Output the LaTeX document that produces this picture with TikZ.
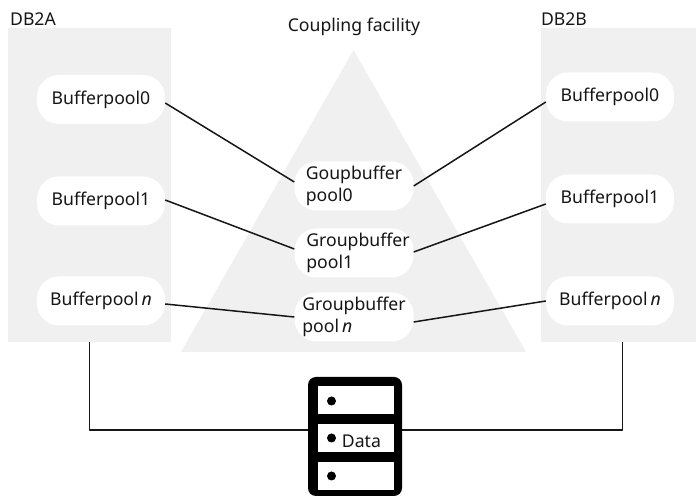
\documentclass[tikz,border=0pt]{standalone}
\usepackage{fontspec}
\setmainfont{Noto Sans}
\usepackage{tikz}
\usetikzlibrary{shapes,arrows,positioning,calc}
\definecolor{panelcol}{HTML}{F0F0F0}
\definecolor{inkcol}{HTML}{161616}
\tikzset{
  panel/.style={fill=panelcol,inner sep=0pt,minimum width=163bp,minimum height=314bp},
  pool/.style={fill=white,rounded corners=22bp,inner sep=0pt,minimum width=128bp,minimum height=49bp,font=\fontsize{17.7}{22}\selectfont,text=inkcol},
  gpool/.style={pool,minimum width=119bp,align=left},
  label/.style={inner sep=0pt,font=\fontsize{17.7}{22}\selectfont,text=inkcol},
  slot/.style={fill=white,inner sep=0pt,minimum width=76bp,minimum height=28bp},
  dot/.style={circle,fill=black,inner sep=0pt,minimum size=9bp},
  wire/.style={draw=inkcol,line width=1.5bp},
}
\begin{document}
\begin{tikzpicture}[x=1bp,y=1bp,line join=bevel]
\useasboundingbox (0,0) rectangle (696,496);
\clip (0,0) rectangle (696,496);
\node [panel] (dba) at (89.5,311) {};
\node [panel] (dbb) at (622.5,311) {};
\fill [panelcol] (181,144) -- (353.5,446) -- (526,144) -- cycle;
\node [label] (dbalabel) at (33,477) {DB2A};
\node [label] (dbblabel) at (564,477) {DB2B};
\node [label] (cflabel) at (354,469) {Coupling facility};
\node [pool] (apool0) at (101,396.5) {Bufferpool0};
\node [pool] (apool1) at (101,295) {Bufferpool1};
\node [pool] (apooln) at (101,195) {Bufferpool\,\textit{n}};
\node [pool] (bpool0) at (610,399) {Bufferpool0};
\node [pool] (bpool1) at (610,297) {Bufferpool1};
\node [pool] (bpooln) at (610,195) {Bufferpool\,\textit{n}};
\node [gpool] (gpool0) at (354,310) {Goupbuffer\\pool0};
\node [gpool] (gpool1) at (354,243) {\hspace*{8bp}Groupbuffer\\\hspace*{8bp}pool1};
\node [gpool] (gpooln) at (354,179) {Groupbuffer\\pool\,\textit{n}};
\draw [wire] ([yshift=-3.5bp]apool0.east) -- ([yshift=4bp]gpool0.west);
\draw [wire] ([yshift=1bp]apool1.east) -- ([yshift=4bp]gpool1.west);
\draw [wire] ([yshift=-3bp]apooln.east) -- (gpooln.west);
\draw [wire] ([yshift=-5bp]bpool0.west) -- (gpool0.east);
\draw [wire] ([yshift=-5bp]bpool1.west) -- ([yshift=1bp]gpool1.east);
\draw [wire] (bpooln.west) -- ([yshift=-5bp]gpooln.east);
\node [fill=black,rounded corners=8bp,inner sep=0pt,minimum width=94bp,minimum height=119bp] (rack) at (355,59.5) {};
\coordinate (rackl) at (308,66);
\coordinate (rackr) at (402,66);
\draw [wire] (dba.south) |- (rackl);
\draw [wire] (dbb.south) |- (rackr);
\node [slot] (slot1) at (355.5,95.5) {};
\node [slot] (slot2) at (355.5,58) {};
\node [slot] (slot3) at (355.5,20) {};
\node [dot] (dot1) at (331.5,95) {};
\node [dot] (dot2) at (331.5,58) {};
\node [dot] (dot3) at (331.5,20) {};
\node [label,right=5.5bp of dot2,yshift=-3bp] (data) {Data};
\end{tikzpicture}
\end{document}
